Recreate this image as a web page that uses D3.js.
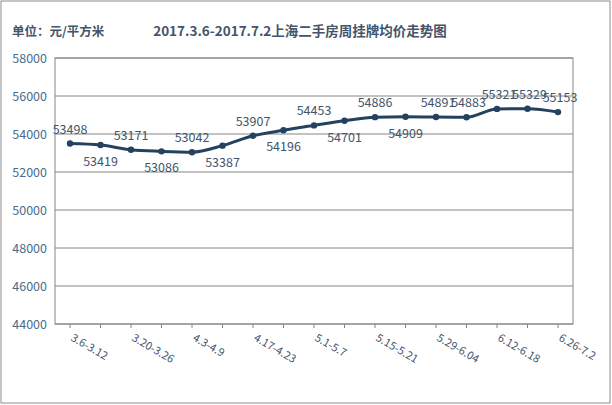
<!DOCTYPE html>
<html><head><meta charset="utf-8">
<script src="https://cdn.jsdelivr.net/npm/d3@7"></script>
<style>body{margin:0;background:#fff}text{font-family:"Noto Sans CJK SC","DejaVu Sans",sans-serif}</style>
</head><body><svg id="c"></svg>
<script>
// weekly listing price, 元/平方米
const weeks = ["3.6-3.12","3.13-3.19","3.20-3.26","3.27-4.2","4.3-4.9","4.10-4.16","4.17-4.23","4.24-4.30",
  "5.1-5.7","5.8-5.14","5.15-5.21","5.22-5.28","5.29-6.04","6.05-6.11","6.12-6.18","6.19-6.25","6.26-7.2"];
const prices = [53498,53419,53171,53086,53042,53387,53907,54196,54453,54701,54886,54909,54891,54883,55321,55329,55153];
const labelBelow = [false,true,false,true,false,true,false,true,false,true,false,true,false,false,false,false,false];
const yTicks = [44000,46000,48000,50000,52000,54000,56000,58000];

const width = 612, height = 405;
const margin = {top: 58, right: 39, bottom: 81, left: 55};
const svg = d3.select("#c").attr("width", width).attr("height", height);

svg.append("rect").attr("x", 1).attr("y", 1).attr("width", width - 3).attr("height", height - 3)
  .attr("fill", "#fff").attr("stroke", "#8c8c8c");

const x = d3.scalePoint().domain(weeks).range([margin.left + 15, width - margin.right - 15]);
const y = d3.scaleLinear().domain([44000, 58000]).range([height - margin.bottom, margin.top]);

// grid
svg.append("g").selectAll("line").data(yTicks).join("line")
  .attr("x1", margin.left).attr("x2", width - margin.right)
  .attr("y1", d => y(d)).attr("y2", d => y(d)).attr("stroke", "#868686");
svg.append("rect").attr("x", margin.left).attr("y", margin.top)
  .attr("width", width - margin.left - margin.right).attr("height", height - margin.top - margin.bottom)
  .attr("fill", "none").attr("stroke", "#868686");

svg.append("g").selectAll("text").data(yTicks).join("text")
  .attr("x", 47).attr("y", d => y(d) + 5).attr("text-anchor", "end")
  .attr("font-size", 12.5).attr("fill", "#4a6b8a").text(d => d);

// x ticks and labels
const xb = height - margin.bottom;
svg.append("g").selectAll("line").data(weeks).join("line")
  .attr("x1", d => x(d)).attr("x2", d => x(d)).attr("y1", xb).attr("y2", xb + 4).attr("stroke", "#868686");
svg.append("g").selectAll("text").data(weeks.filter((d, i) => i % 2 === 0)).join("text")
  .attr("transform", d => `translate(${x(d)},${xb + 16}) rotate(30)`)
  .attr("font-size", 11).attr("fill", "#44546a").text(d => d);

// line
const line = d3.line().x((d, i) => x(weeks[i])).y(d => y(d)).curve(d3.curveMonotoneX);
svg.append("path").datum(prices).attr("d", line).attr("fill", "none")
  .attr("stroke", "#24415f").attr("stroke-width", 3);
svg.append("g").selectAll("circle").data(prices).join("circle")
  .attr("cx", (d, i) => x(weeks[i])).attr("cy", d => y(d)).attr("r", 3.2).attr("fill", "#24415f");

svg.append("g").selectAll("text").data(prices).join("text")
  .attr("x", (d, i) => x(weeks[i]) + (i >= 12 && !labelBelow[i] ? 2 : 0))
  .attr("y", (d, i) => y(d) + (labelBelow[i] ? 21 : -10))
  .attr("text-anchor", "middle").attr("font-size", 12.5).attr("fill", "#44546a")
  .text(d => d);

// titles
svg.append("text").attr("x", 12).attr("y", 36).attr("font-size", 12.5).attr("font-weight", "bold")
  .attr("fill", "#44546a").text("单位：元/平方米");
svg.append("text").attr("x", 300).attr("y", 36).attr("text-anchor", "middle").attr("font-size", 13.5)
  .attr("font-weight", "bold").attr("fill", "#44546a").text("2017.3.6-2017.7.2上海二手房周挂牌均价走势图");
</script></body></html>
